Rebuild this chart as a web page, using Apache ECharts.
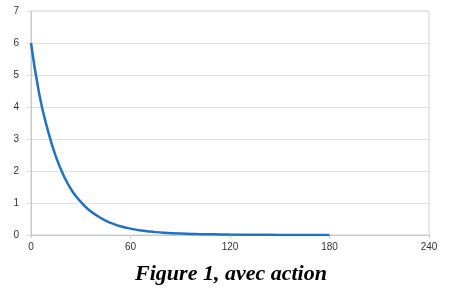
<!DOCTYPE html>
<html><head><meta charset="utf-8">
<script src="https://cdn.jsdelivr.net/npm/echarts@6/dist/echarts.min.js"></script>
<style>html,body{margin:0;padding:0;background:#fff}#c{width:450px;height:290px}</style>
</head><body><div id="c"></div>
<script>
const xValues = [0,5,10,15,20,25,30,35,40,45,50,55,60,65,70,75,80,90,100,110,120,135,150,165,180];
const yValues = [6.0,4.4,3.3,2.45,1.82,1.36,1.04,0.78,0.6,0.45,0.34,0.26,0.2,0.15,0.12,0.09,0.07,0.045,0.03,0.02,0.012,0.006,0.003,0.002,0.001];
const xTicks = [0,60,120,180,240];
const yTicks = [0,1,2,3,4,5,6,7];
const title = 'Figure 1, avec action';

const chart = echarts.init(document.getElementById('c'), null, {renderer:'canvas'});
chart.setOption({
  animation:false,
  backgroundColor:'#fff',
  title:{text:title,left:226,textAlign:'center',top:258,
    textStyle:{fontFamily:'Liberation Serif',fontStyle:'italic',fontWeight:'bold',fontSize:22,color:'#000'}},
  grid:{left:31,right:21,top:11,bottom:55,show:true,borderColor:'#d0d0d0',borderWidth:1},
  xAxis:{type:'value',min:xTicks[0],max:xTicks[xTicks.length-1],interval:60,
    axisLine:{show:true,lineStyle:{color:'#c8c8c8'}},
    axisTick:{show:true,length:3,lineStyle:{color:'#c8c8c8'}},
    splitLine:{show:false},
    axisLabel:{color:'#333',fontFamily:'Liberation Sans',fontSize:10,margin:7}},
  yAxis:{type:'value',min:yTicks[0],max:yTicks[yTicks.length-1],interval:1,
    axisLine:{show:true,lineStyle:{color:'#c8c8c8'}},
    axisTick:{show:true,length:4,lineStyle:{color:'#dcdcdc'}},
    splitLine:{show:true,lineStyle:{color:'#e2e2e2'}},
    axisLabel:{color:'#333',fontFamily:'Liberation Sans',fontSize:10,margin:12}},
  series:[{type:'line',data:xValues.map((x,i)=>[x,yValues[i]]),smooth:true,showSymbol:false,
    lineStyle:{color:'#2272c3',width:2.5}}]
});
</script></body></html>
